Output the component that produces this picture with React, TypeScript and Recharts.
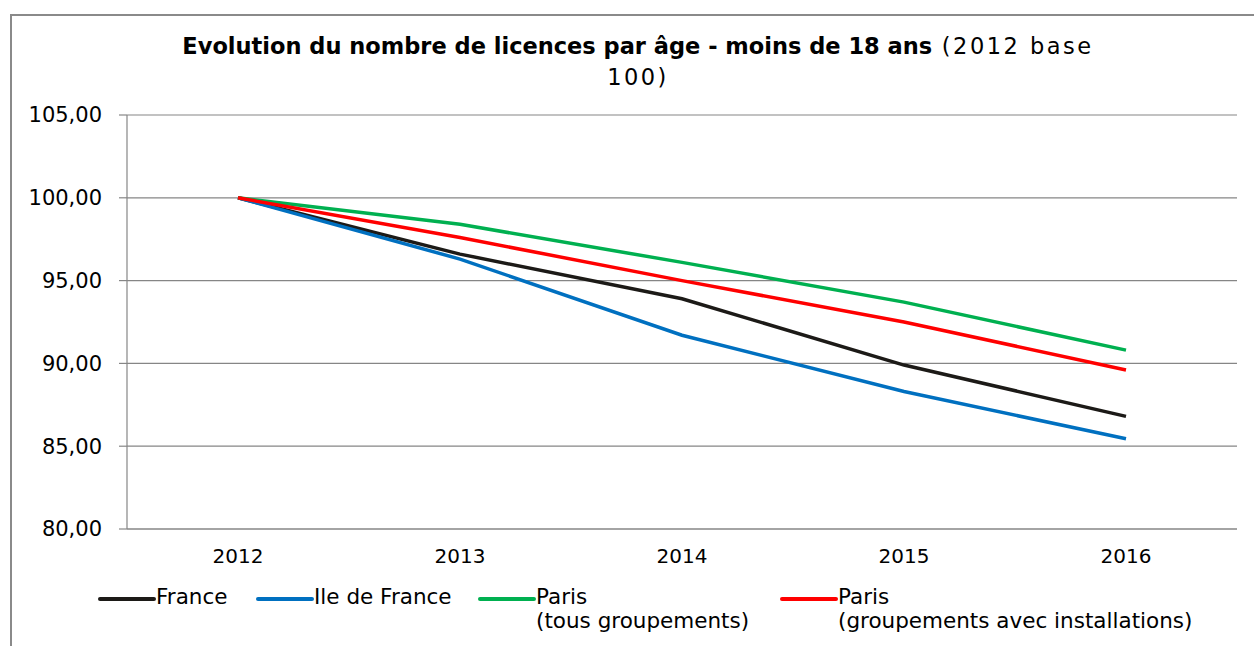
import { LineChart, Line, XAxis, YAxis, CartesianGrid, Legend } from 'recharts';

const YEARS = ['2012', '2013', '2014', '2015', '2016'];
const FRANCE = [100, 96.6, 93.9, 89.9, 86.8];
const ILE_DE_FRANCE = [100, 96.3, 91.7, 88.3, 85.45];
const PARIS_TOUS = [100, 98.4, 96.1, 93.7, 90.8];
const PARIS_INSTALL = [100, 97.6, 95.0, 92.5, 89.6];
const Y_TICKS = [80, 85, 90, 95, 100, 105];

const SERIES = [
  { key: 'france', label: ['France'], color: '#1c1a17', values: FRANCE },
  { key: 'idf', label: ['Ile de France'], color: '#0070c0', values: ILE_DE_FRANCE },
  { key: 'parisTous', label: ['Paris', '(tous groupements)'], color: '#00b050', values: PARIS_TOUS },
  { key: 'parisInst', label: ['Paris', '(groupements avec installations)'], color: '#ff0000', values: PARIS_INSTALL },
];

const data = YEARS.map((year, i) => {
  const row: any = { x: i, year };
  SERIES.forEach((s) => {
    row[s.key] = s.values[i];
  });
  return row;
});

const FONT = '"DejaVu Sans", Verdana, sans-serif';
const GRID = '#868686';
const LEGEND_LEFT = [98, 256, 478, 780];

const renderLegend = () => (
  <div style={{ position: 'relative', height: 60, fontFamily: FONT, fontSize: 21.5, color: '#000' }}>
    {SERIES.map((s, i) => (
      <div key={s.key} style={{ position: 'absolute', left: LEGEND_LEFT[i], top: 0, display: 'flex' }}>
        <svg width={58} height={24} style={{ flex: 'none' }}>
          <line x1={2} y1={14} x2={56} y2={14} stroke={s.color} strokeWidth={4} strokeLinecap="round" />
        </svg>
        <div style={{ lineHeight: '24px', whiteSpace: 'nowrap' }}>
          {s.label.map((l, j) => (
            <div key={j}>{l}</div>
          ))}
        </div>
      </div>
    ))}
  </div>
);

export default function App() {
  return (
    <div
      style={{
        position: 'absolute',
        left: 0,
        top: 0,
        width: 1254,
        height: 646,
        overflow: 'hidden',
        background: '#fff',
        fontFamily: FONT,
      }}
    >
      <div
        style={{
          position: 'absolute',
          left: 10,
          top: 14,
          width: 1400,
          height: 800,
          border: '2px solid #8a8a8a',
        }}
      />
      <div
        style={{
          position: 'absolute',
          left: 138,
          top: 31,
          width: 1000,
          textAlign: 'center',
          fontSize: 22.5,
          lineHeight: '31px',
          color: '#000',
        }}
      >
        <span style={{ fontWeight: 'bold' }}>Evolution du nombre de licences par âge - moins de 18 ans</span>
        <span style={{ letterSpacing: 2.5 }}> (2012 base</span>
        <br />
        <span style={{ letterSpacing: 2.5 }}>100)</span>
      </div>
      <LineChart
        width={1254}
        height={646}
        data={data}
        margin={{ top: 115, right: 17, bottom: 0, left: 0 }}
        style={{ position: 'absolute', left: 0, top: 0 }}
      >
        <CartesianGrid vertical={false} stroke={GRID} strokeWidth={1.2} />
        <XAxis
          xAxisId="marks"
          dataKey="x"
          type="number"
          domain={[-0.5, 4.5]}
          ticks={[-0.5, 0.5, 1.5, 2.5, 3.5, 4.5]}
          height={0}
          tick={false}
          tickSize={8}
          tickLine={{ stroke: GRID, strokeWidth: 1.2 }}
          axisLine={false}
        />
        <XAxis
          dataKey="x"
          type="number"
          domain={[-0.5, 4.5]}
          ticks={[0, 1, 2, 3, 4]}
          tickFormatter={(i: number) => YEARS[i]}
          height={117}
          tickLine={false}
          tickSize={0}
          tickMargin={20}
          axisLine={{ stroke: GRID, strokeWidth: 1.2 }}
          tick={{ fill: '#000', fontSize: 20, fontFamily: FONT }}
        />
        <YAxis
          domain={[80, 105]}
          ticks={Y_TICKS}
          width={127}
          tickSize={8}
          tickMargin={17}
          tickFormatter={(v: number) => v.toFixed(2).replace('.', ',')}
          tickLine={{ stroke: GRID, strokeWidth: 1.2 }}
          axisLine={{ stroke: GRID, strokeWidth: 1.2 }}
          tick={{ fill: '#000', fontSize: 21, fontFamily: FONT }}
        />
        {SERIES.map((s) => (
          <Line
            key={s.key}
            dataKey={s.key}
            stroke={s.color}
            strokeWidth={3.5}
            dot={false}
            type="linear"
            isAnimationActive={false}
          />
        ))}
        <Legend
          layout="horizontal"
          verticalAlign="middle"
          align="center"
          content={renderLegend}
          wrapperStyle={{ left: 0, top: 585, width: 1254 }}
        />
      </LineChart>
    </div>
  );
}
